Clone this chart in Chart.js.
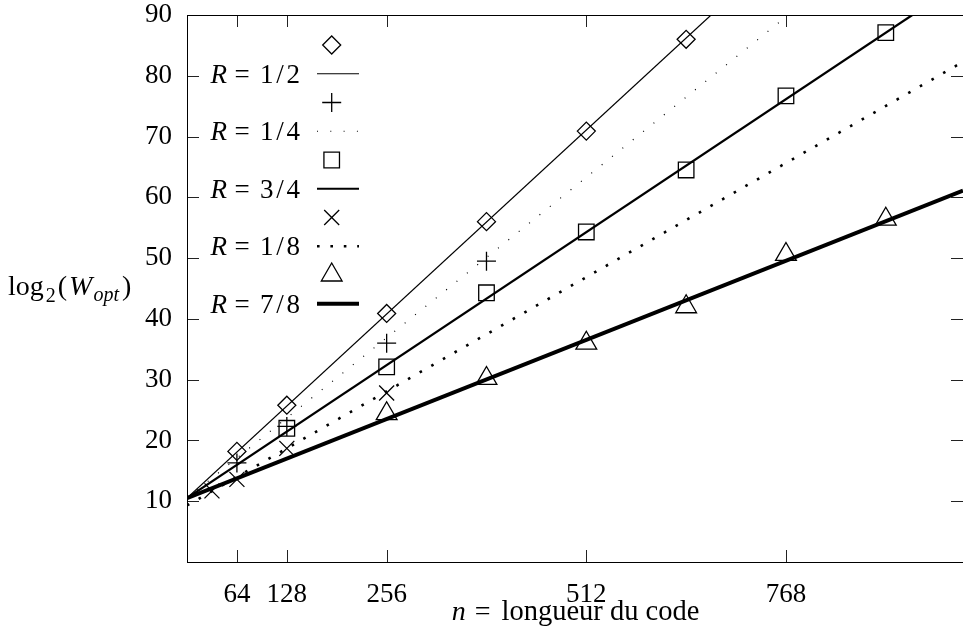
<!DOCTYPE html>
<html>
<head>
<meta charset="utf-8">
<script src="https://cdn.jsdelivr.net/npm/chart.js@4/dist/chart.umd.min.js"></script>
<style>
  html, body { margin: 0; padding: 0; background: #fff; }
</style>
</head>
<body>
<canvas id="myChart" width="963" height="636"></canvas>
<script>
// tick labels
const xTicks = [64, 128, 256, 512, 768];
const yTicks = [10, 20, 30, 40, 50, 60, 70, 80, 90];
const rates = [["1", "2"], ["1", "4"], ["3", "4"], ["1", "8"], ["7", "8"]];

// measured points : n, log2(W_opt)
const nHalf = [64, 128, 256, 384, 512, 640];
const wHalf = [18.2, 25.8, 40.9, 56.0, 70.9, 86.0];
const nQuarter = [64, 128, 256, 384];
const wQuarter = [16.3, 22.3, 36.0, 49.5];
const nThreeQ = [128, 256, 384, 512, 640, 768, 896];
const wThreeQ = [22.0, 32.1, 44.3, 54.3, 64.5, 76.7, 87.1];
const nEighth = [32, 64, 128, 256];
const wEighth = [11.7, 13.6, 18.7, 27.8];
const nSevenE = [256, 384, 512, 640, 768, 896];
const wSevenE = [24.4, 30.2, 36.0, 42.0, 50.6, 56.4];

// fitted lines (ends, as read on the frame)
const fitHalfN = [0, 672];
const fitHalfW = [10.5, 90];
const fitQuarterN = [0, 771];
const fitQuarterW = [10.5, 90];
const fitThreeQN = [0, 930];
const fitThreeQW = [10.5, 90];
const fitEighthN = [0, 995];
const fitEighthW = [9.3, 82.3];
const fitSevenEN = [0, 995];
const fitSevenEW = [10.5, 61.1];

const SERIF = "'Liberation Serif', 'Times New Roman', serif";

function pts(xs, ys) {
  return xs.map(function (x, i) { return { x: x, y: ys[i] }; });
}

function markers(xs, ys, style, r) {
  return {
    data: pts(xs, ys),
    showLine: false,
    pointStyle: style,
    pointRadius: r,
    pointBorderColor: "#000",
    pointBackgroundColor: "rgba(0,0,0,0)",
    pointBorderWidth: 1.3,
    borderColor: "#000",
  };
}

function fit(xs, ys, width, dash) {
  return {
    data: pts(xs, ys),
    pointRadius: 0,
    borderColor: "#000",
    borderWidth: width,
    borderDash: dash,
    tension: 0,
    fill: false,
  };
}

const markerStyles = [
  ["rectRot", 9], ["cross", 9.5], ["rect", 11], ["crossRot", 10.6], ["triangle", 12],
];
const lineStyles = [[1.2, []], [1.2, [1, 12.3]], [2.2, []], [2.6, [2.6, 10.8]], [4, []]];

const datasets = [
  markers(nHalf, wHalf, "rectRot", 9),
  fit(fitHalfN, fitHalfW, 1.2, []),
  markers(nQuarter, wQuarter, "cross", 9.5),
  fit(fitQuarterN, fitQuarterW, 1.2, [1, 12.3]),
  markers(nThreeQ, wThreeQ, "rect", 11),
  fit(fitThreeQN, fitThreeQW, 2.2, []),
  markers(nEighth, wEighth, "crossRot", 10.6),
  fit(fitEighthN, fitEighthW, 2.6, [2.6, 10.8]),
  markers(nSevenE, wSevenE, "triangle", 12),
  fit(fitSevenEN, fitSevenEW, 4, []),
];

function drawMarker(ctx, style, r, x, y) {
  ctx.save();
  ctx.strokeStyle = "#000";
  ctx.lineWidth = 1.3;
  ctx.beginPath();
  if (style == "rectRot") {
    ctx.moveTo(x - r, y); ctx.lineTo(x, y - r); ctx.lineTo(x + r, y); ctx.lineTo(x, y + r); ctx.closePath();
  } else if (style == "cross") {
    ctx.moveTo(x - r, y); ctx.lineTo(x + r, y); ctx.moveTo(x, y - r); ctx.lineTo(x, y + r);
  } else if (style == "rect") {
    const s = r * Math.SQRT1_2;
    ctx.rect(x - s, y - s, 2 * s, 2 * s);
  } else if (style == "crossRot") {
    const s = r * Math.SQRT1_2;
    ctx.moveTo(x - s, y - s); ctx.lineTo(x + s, y + s); ctx.moveTo(x + s, y - s); ctx.lineTo(x - s, y + s);
  } else if (style == "triangle") {
    ctx.moveTo(x, y - r);
    ctx.lineTo(x + r * Math.sin(2 * Math.PI / 3), y - r * Math.cos(2 * Math.PI / 3));
    ctx.lineTo(x + r * Math.sin(4 * Math.PI / 3), y - r * Math.cos(4 * Math.PI / 3));
    ctx.closePath();
  }
  ctx.stroke();
  ctx.restore();
}

// draws pieces one after the other : [text, font, dy, gapAfter]
function drawPieces(ctx, pieces, x, y) {
  ctx.textAlign = "left";
  pieces.forEach(function (p) {
    ctx.font = p[1];
    ctx.fillText(p[0], x, y + p[2]);
    x += ctx.measureText(p[0]).width + p[3];
  });
}

function piecesWidth(ctx, pieces) {
  let w = 0;
  pieces.forEach(function (p) {
    ctx.font = p[1];
    w += ctx.measureText(p[0]).width + p[3];
  });
  return w;
}

// frame with inward ticks on all four sides
const framePlugin = {
  id: "frame",
  afterDatasetsDraw(chart) {
    const ctx = chart.ctx;
    const a = chart.chartArea;
    const sx = chart.scales.x;
    const sy = chart.scales.y;
    ctx.save();
    ctx.strokeStyle = "#222";
    ctx.lineWidth = 1;
    ctx.beginPath();
    xTicks.forEach(function (v) {
      const px = Math.round(sx.getPixelForValue(v)) + 0.5;
      ctx.moveTo(px, a.bottom); ctx.lineTo(px, a.bottom - 12);
      ctx.moveTo(px, a.top); ctx.lineTo(px, a.top + 12);
    });
    yTicks.forEach(function (v) {
      const py = Math.round(sy.getPixelForValue(v)) + 0.5;
      ctx.moveTo(a.left, py); ctx.lineTo(a.left + 12, py);
      ctx.moveTo(a.right, py); ctx.lineTo(a.right - 12, py);
    });
    ctx.stroke();
    ctx.strokeStyle = "#000";
    ctx.strokeRect(Math.round(a.left) + 0.5, Math.round(a.top) + 0.5, Math.round(a.width), Math.round(a.height));
    ctx.restore();
  },
};

// axis titles and key (gnuplot style)
const textPlugin = {
  id: "texts",
  afterDraw(chart) {
    const ctx = chart.ctx;
    const big = "27px " + SERIF;
    const bigIt = "italic 27px " + SERIF;
    const small = "20px " + SERIF;
    const smallIt = "italic 20px " + SERIF;
    ctx.save();
    ctx.fillStyle = "#000";
    ctx.textBaseline = "alphabetic";

    // y title : log2(W_opt)
    drawPieces(ctx, [
      ["log", "28px " + SERIF, 0, 2],
      ["2", small, 7, 2],
      ["(", "28px " + SERIF, 0, 2],
      ["W", "italic 28px " + SERIF, 0, 1],
      ["opt", smallIt, 6, 3],
      [")", "28px " + SERIF, 0, 0],
    ], 8, 295);

    // x title
    const xt = [
      ["n", "italic 28px " + SERIF, 0, 9],
      ["=", "28px " + SERIF, 0, 11],
      ["longueur du code", "28.5px " + SERIF, 0, 0],
    ];
    drawPieces(ctx, xt, 575.5 - piecesWidth(ctx, xt) / 2, 620);

    // key
    for (let k = 0; k < rates.length; k++) {
      const ym = 45 + 57.5 * k;
      const yl = ym + 28.75;
      drawMarker(ctx, markerStyles[k][0], markerStyles[k][1], 331.7, ym);
      ctx.font = bigIt;
      ctx.textAlign = "right";
      ctx.fillText("R", 227, yl + 9);
      ctx.font = big;
      ctx.textAlign = "center";
      ctx.fillText("=", 242, yl + 9);
      ctx.textAlign = "left";
      ctx.fillText(rates[k][0], 260, yl + 9);
      ctx.textAlign = "center";
      ctx.fillText("/", 280, yl + 9);
      ctx.textAlign = "right";
      ctx.fillText(rates[k][1], 300, yl + 9);

      ctx.save();
      ctx.strokeStyle = "#000";
      ctx.lineWidth = lineStyles[k][0];
      ctx.setLineDash(lineStyles[k][1]);
      ctx.beginPath();
      ctx.moveTo(317, yl);
      ctx.lineTo(359, yl);
      ctx.stroke();
      ctx.restore();
    }
    ctx.restore();
  },
};

const ctx = document.getElementById("myChart");

new Chart(ctx, {
  type: "line",
  data: { datasets: datasets },
  plugins: [framePlugin, textPlugin],
  options: {
    responsive: false,
    animation: false,
    layout: { autoPadding: false, padding: { top: 15, right: 0, bottom: 0, left: 0 } },
    plugins: {
      legend: { display: false },
      tooltip: { enabled: false },
    },
    scales: {
      x: {
        type: "linear",
        min: 0,
        max: 995,
        afterBuildTicks: function (scale) {
          scale.ticks = xTicks.map(function (v) { return { value: v }; });
        },
        afterFit: function (scale) {
          scale.height = 74;
          scale.paddingLeft = 0;
          scale.paddingRight = 0;
        },
        grid: { display: false, drawTicks: false },
        border: { display: false },
        ticks: {
          padding: 17,
          maxRotation: 0,
          color: "#000",
          font: { family: SERIF, size: 27 },
        },
      },
      y: {
        type: "linear",
        min: 0,
        max: 90,
        afterBuildTicks: function (scale) {
          scale.ticks = yTicks.map(function (v) { return { value: v }; });
        },
        afterFit: function (scale) {
          scale.width = 187;
          scale.paddingTop = 0;
          scale.paddingBottom = 0;
        },
        grid: { display: false, drawTicks: false },
        border: { display: false },
        ticks: {
          padding: 15,
          color: "#000",
          font: { family: SERIF, size: 27 },
        },
      },
    },
  },
});
</script>
</body>
</html>
